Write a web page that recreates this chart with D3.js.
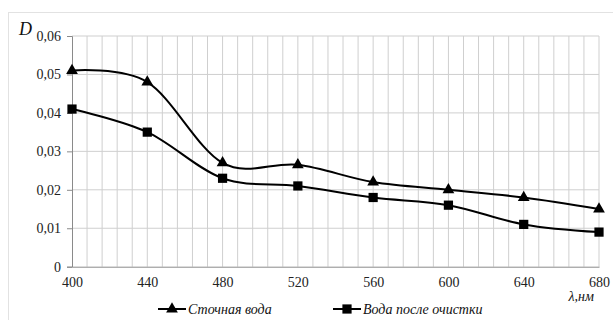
<!DOCTYPE html>
<html><head><meta charset="utf-8">
<script src="https://cdn.jsdelivr.net/npm/d3@7"></script>
<style>body{margin:0;background:#fff}svg{display:block}</style>
</head><body><svg id="c" width="613" height="320" font-family="Liberation Serif"></svg>
<script>
const wavelengths = [400, 440, 480, 520, 560, 600, 640, 680];
const wastewater = [0.051, 0.048, 0.027, 0.0265, 0.022, 0.020, 0.018, 0.015];
const treated = [0.041, 0.035, 0.023, 0.021, 0.018, 0.016, 0.011, 0.009];
const yTicks = [0, 0.01, 0.02, 0.03, 0.04, 0.05, 0.06];
const seriesNames = ["Сточная вода", "Вода после очистки"];
const yLabel = "D";
const xLabel = "λ,нм";
const FONT = "Liberation Serif";

const svg = d3.select("#c");
const x = d3.scaleLinear().domain([400, 680]).range([72, 599]);
const y = d3.scaleLinear().domain([0, 0.06]).range([266.7, 36]);
const fmt = v => v === 0 ? "0" : d3.format(".2f")(v).replace(".", ",");

// outer frame
svg.append("rect").attr("x", 8.5).attr("y", 12.5).attr("width", 640).attr("height", 340)
  .attr("fill", "none").attr("stroke", "#e2e2e2");

// grid
const g = svg.append("g");
g.selectAll("line.v").data(d3.range(408, 681, 8)).join("line")
  .attr("x1", d => x(d)).attr("x2", d => x(d)).attr("y1", y(0.06)).attr("y2", y(0))
  .attr("stroke", "#cfcfcf").attr("stroke-width", 1);
g.selectAll("line.h").data(yTicks.slice(1)).join("line")
  .attr("x1", x(400)).attr("x2", x(680)).attr("y1", d => y(d)).attr("y2", d => y(d))
  .attr("stroke", "#cfcfcf").attr("stroke-width", 1);

// axes
const yAxis = d3.axisLeft(y).tickValues(yTicks).tickFormat(fmt).tickSize(5).tickPadding(6);
const ya = svg.append("g").attr("transform", `translate(${x(400)},0)`).call(yAxis);
ya.attr("font-family", FONT).attr("font-size", 14);
ya.select(".domain").attr("stroke", "#8a8a8a");
ya.selectAll(".tick line").attr("stroke", "#8a8a8a");
ya.selectAll("text").attr("font-family", FONT).attr("fill", "#222");

const xAxis = d3.axisBottom(x).tickValues(wavelengths).tickSize(0).tickPadding(10);
const xa = svg.append("g").attr("transform", `translate(0,${y(0)})`).call(xAxis);
xa.attr("font-family", FONT).attr("font-size", 14);
xa.select(".domain").attr("stroke", "#8a8a8a");
xa.selectAll("text").attr("font-family", FONT).attr("fill", "#222");

// lines
const line = d3.line().x((d, i) => x(wavelengths[i])).y(d => y(d)).curve(d3.curveCardinal.tension(0));
[wastewater, treated].forEach(s => {
  svg.append("path").datum(s).attr("d", line).attr("fill", "none").attr("stroke", "#000").attr("stroke-width", 2);
});
const tri = d3.symbol().type(d3.symbolTriangle).size(60);
const sq = d3.symbol().type(d3.symbolSquare).size(85);
svg.selectAll("path.t").data(wastewater).join("path")
  .attr("d", tri).attr("transform", (d, i) => `translate(${x(wavelengths[i])},${y(d)})`).attr("fill", "#000");
svg.selectAll("path.s").data(treated).join("path")
  .attr("d", sq).attr("transform", (d, i) => `translate(${x(wavelengths[i])},${y(d)})`).attr("fill", "#000");

// labels
svg.append("text").attr("x", 19).attr("y", 35).text(yLabel).attr("font-family", FONT)
  .attr("font-style", "italic").attr("font-size", 18).attr("fill", "#111");
svg.append("text").attr("x", 594).attr("y", 301).attr("text-anchor", "end").text(xLabel).attr("font-family", FONT)
  .attr("font-style", "italic").attr("font-size", 14).attr("fill", "#111");

// legend
const leg = [{x0: 158, sym: tri}, {x0: 333, sym: sq}];
leg.forEach((l, i) => {
  const ly = 309;
  svg.append("line").attr("x1", l.x0).attr("x2", l.x0 + 28).attr("y1", ly).attr("y2", ly)
    .attr("stroke", "#000").attr("stroke-width", 2);
  svg.append("path").attr("d", l.sym).attr("transform", `translate(${l.x0 + 14},${ly})`).attr("fill", "#000");
  svg.append("text").attr("x", l.x0 + 30).attr("y", ly + 5).text(seriesNames[i]).attr("font-family", FONT)
    .attr("font-style", "italic").attr("font-size", 14).attr("fill", "#111");
});
</script></body></html>
